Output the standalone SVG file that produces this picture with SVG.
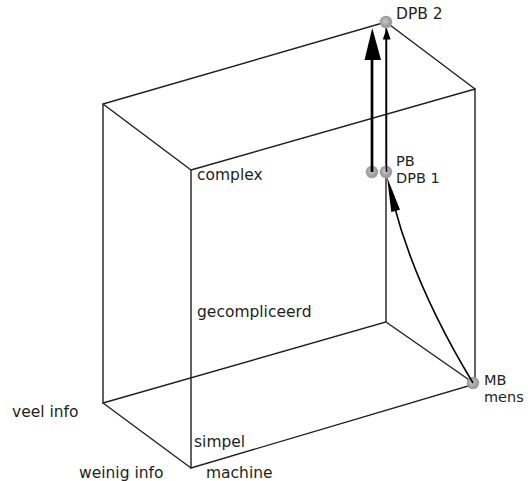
<svg xmlns="http://www.w3.org/2000/svg" width="528" height="481" viewBox="0 0 528 481">
  <style>
    .edge { fill: none; stroke: #231f20; stroke-width: 1.4; stroke-linejoin: miter; }
    .lbl { font-family: "DejaVu Sans", "Liberation Sans", sans-serif; font-size: 15.5px; fill: #231f20; }
    .tight { font-size: 14.5px; }
    .dot { fill: url(#sphere); }
    .arrow { fill: none; stroke: #000; }
    .head { fill: #000; stroke: none; }
  </style>
  <defs>
    <radialGradient id="sphere" cx="0.45" cy="0.45" r="0.6">
      <stop offset="0" stop-color="#c8c8c8"/>
      <stop offset="0.7" stop-color="#9a9a9a"/>
      <stop offset="1" stop-color="#b0b0b0"/>
    </radialGradient>
  </defs>

  <!-- cube wireframe -->
  <g id="cube">
    <path class="edge" d="M103,104 L386,22 L386,322 L103,403 Z"/>
    <path class="edge" d="M191,170 L475,89 L475,384 L191,468 Z"/>
    <path class="edge" d="M103,104 L191,170 M386,22 L475,89 M386,322 L475,384 M103,403 L191,468"/>
  </g>

  <!-- axis labels -->
  <g id="axis-labels">
    <text class="lbl" x="197" y="180">complex</text>
    <text class="lbl" x="197" y="317">gecompliceerd</text>
    <text class="lbl" x="194" y="447">simpel</text>
    <text class="lbl" x="12" y="417">veel info</text>
    <text class="lbl" x="79" y="478">weinig info</text>
    <text class="lbl" x="206" y="478">machine</text>
  </g>

  <!-- points -->
  <g id="node-dpb2">
    <circle class="dot" cx="386" cy="22" r="6.3"/>
    <text class="lbl" x="396" y="19">DPB 2</text>
  </g>
  <g id="node-pb">
    <circle class="dot" cx="372" cy="172" r="6.3"/>
    <text class="lbl tight" x="396" y="166">PB</text>
  </g>
  <g id="node-dpb1">
    <circle class="dot" cx="386" cy="172" r="6.3"/>
    <text class="lbl tight" x="396" y="183">DPB 1</text>
  </g>
  <g id="node-mb">
    <circle class="dot" cx="473" cy="383" r="6.3"/>
    <text class="lbl tight" x="484" y="385">MB</text>
    <text class="lbl tight" x="484" y="402">mens</text>
  </g>

  <!-- connectors -->
  <g id="connectors">
    <!-- PB to DPB 2 (bold) -->
    <line class="arrow" x1="372" y1="172" x2="372" y2="58" stroke-width="2.7"/>
    <polygon class="head" points="372.3,28 364.5,60 381,60"/>
    <!-- DPB 1 to DPB 2 -->
    <line class="arrow" x1="386.5" y1="172" x2="386.5" y2="38" stroke-width="1.5"/>
    <polygon class="head" points="386.7,28 382.8,39.5 390.6,39.5"/>
    <!-- MB to DPB 1 -->
    <path class="arrow" d="M473,383 Q416,289 394,205" stroke-width="1.6"/>
    <polygon class="head" points="387,177 400,209.8 391.3,212"/>
  </g>
</svg>
